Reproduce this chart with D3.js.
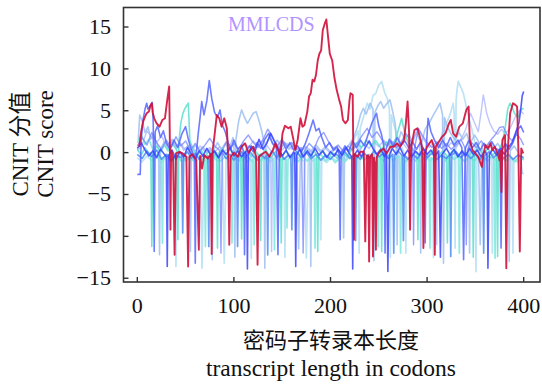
<!DOCTYPE html>
<html>
<head>
<meta charset="utf-8">
<script src="https://cdn.jsdelivr.net/npm/d3@7"></script>
<style>
  body { margin: 0; background: #fff; }
  text { font-family: "Liberation Serif", "Noto Sans CJK SC", serif; }
</style>
</head>
<body>
<script>
// tick values
const xTicks = [0, 100, 200, 300, 400];
const yTicks = [-15, -10, -5, 0, 5, 10, 15];

// highlighted transcript (MMLCDS), [codon, score]
const mmlcds = [[2,0.7],[4,2.5],[6,3.7],[8,4.3],[9.7,4.7],[12,4.9],[13.5,5.6],[15,5.9],[16,4.8],[17.5,4.1],[20,3.5],[23,3.1],[26,3.9],[28.6,4.1],[31,6.3],[33,7.9],[33.8,0.3],[34.3,-9.2],[35,0.3],[37,-0.5],[38.6,-12.2],[40,-0.1],[43.6,0.1],[47,-0.1],[50.8,-0.5],[52.6,-13.6],[54,-0.5],[57,-0.2],[61,-0.9],[63.7,-11.6],[65,-0.4],[67,-1.9],[69.4,-0.3],[73,-0.7],[76,-0.2],[77,-12.1],[78,0.3],[79.4,1.5],[82.3,4.5],[84.8,4.1],[87.3,3.1],[90,4.1],[92.7,2.9],[94,-0.1],[95.2,-11],[96.6,-0.5],[100,0],[104,-0.5],[108,0.7],[111.6,1.1],[115,0],[120,0.7],[123,-0.5],[124.5,-13.4],[126,-0.5],[130,-0.1],[133,0.1],[136.7,-0.5],[140.2,0.3],[143,1.1],[145.6,0.3],[148,-0.5],[150.3,2.3],[152.8,3.2],[156.4,2.9],[158.8,3.1],[161.7,1.5],[163.5,0.3],[166,1.5],[168.9,4.1],[171,3.1],[173,3.3],[176,4.9],[177.8,6.7],[179.6,7.1],[181.4,8.7],[183.2,8.5],[185,9.3],[186.8,11],[188.5,11.8],[190.3,12.2],[192,14.6],[194,15.4],[195.7,15.9],[197.5,13.8],[199.3,11.8],[201.8,11],[204,9],[206.4,7.5],[209,6.3],[211,5.5],[212.9,3.9],[215.4,3.5],[218,3.9],[219.7,6.3],[220.7,7.1],[223,6.9],[223.6,0],[224.3,-10.4],[225,-0.2],[228,-0.5],[231,0.1],[234.5,0.1],[236,-10.6],[237.5,-0.4],[239,-0.3],[240,-13],[241,-0.5],[243,-0.2],[244,-12.4],[245,-0.6],[246,-1.2],[247,-11.6],[248,-0.5],[251,0.1],[254.7,0.5],[258,-0.1],[262,0.7],[265.5,0.7],[269,1.1],[272,0.7],[276.2,1.5],[278,3.5],[279.8,6.1],[281.4,2.3],[282.4,-9.2],[283.6,0.7],[286.9,2.7],[290,2.9],[293.4,1.5],[295,0.3],[296.2,-11.4],[297.5,-0.1],[300,0.7],[304.8,1.5],[307,0.7],[308,-12.2],[309,0.7],[311,1.1],[315.6,1.9],[319,2.3],[322.7,3.5],[324.5,3.9],[327,2.3],[330,1.9],[333.4,3.1],[337,3.5],[340.6,5.1],[343,5.5],[344.2,1.5],[347,0.3],[350,-0.1],[353,-0.5],[356.7,-1.7],[358.5,-0.1],[360.4,0.9],[363,0.5],[365.6,1.1],[367.5,0.3],[370,0.7],[373,-0.1],[375,-0.9],[376,0.2],[377,-4.7],[378,1.5],[380.7,2.1],[382,-13.8],[383.5,0.3],[386,4.7],[388.9,5.9],[391.4,5.7],[393.2,5.5],[394.5,0.5],[396,-11.8],[397.5,0.5],[399.6,-0.1]];

// other transcripts
const royal = [[0,0.5],[4,1.2],[8,0.3],[12,-0.4],[16,0.2],[20,-0.6],[24,0.4],[28,-0.2],[30,-0.5],[31,-13.6],[32,-0.4],[36,0.3],[40,-0.8],[44,0.1],[48,-0.5],[52,0.6],[56,-0.2],[60,-0.7],[64,0.2],[68,-0.4],[72,0.5],[76,-0.3],[80,0.2],[84,-0.6],[88,0.3],[92,-0.2],[96,0.6],[100,-0.4],[104,0.2],[108,-0.5],[112,0.1],[113,-0.3],[114,-13.9],[115,-0.3],[118,0.8],[122,0.2],[126,1.6],[130,0.4],[134,1.1],[138,2.3],[142,1.3],[146,0.5],[150,-0.4],[154,0.3],[158,-0.6],[162,0.1],[163,-0.2],[164,-13.6],[165,-0.3],[168,0.4],[172,-0.5],[176,0.2],[180,-0.4],[184,0.5],[188,-0.3],[192,0.2],[196,-0.6],[200,0.1],[204,-0.4],[208,0.4],[212,-0.3],[216,0.6],[220,-0.2],[222,-0.5],[223,-13.9],[224,-0.4],[228,0.3],[232,-0.5],[236,0.6],[240,1.4],[244,0.5],[248,-0.2],[252,0.4],[256,-0.5],[258,0.1],[259.4,-14.2],[261,-0.3],[264,0.5],[268,-0.2],[272,0.6],[276,-0.4],[280,0.3],[284,-0.5],[288,0.2],[292,-0.3],[296,0.5],[300,-0.2],[304,0.3],[308,-0.4],[312,0.2],[313.8,-12.5],[315.5,-0.2],[320,0.5],[324,-0.3],[328,0.4],[332,-0.5],[336,0.2],[340,-0.4],[344,0.5],[348,-0.2],[352,0.3],[356,-0.5],[360,0.2],[362,-0.3],[363,-13.8],[364.5,-0.2],[368,0.4],[372,-0.3],[376,0.5],[380,-0.2],[384,0.6],[388,1.2],[392,2.5],[395,3.5],[397,5.2],[398.5,6.8],[400,7.3]];

const blue = [[0,-2.6],[3,-2.6],[4,1.5],[6,4],[8,5.2],[9.7,5.9],[11,5.2],[13,5.5],[15.4,6],[16.5,3.5],[17.5,-11.8],[18.5,2.5],[21,3.2],[24,1.8],[27,2.6],[30,1.2],[34,0.4],[38,1.5],[42,0.6],[46,2.2],[50,3.1],[53,1.5],[56,0.3],[59,-0.4],[60,-13.2],[61,-0.2],[63,2.2],[65,4.2],[66.7,6.1],[69,4.5],[72,6.2],[74.5,8.6],[77,6.5],[80,4.8],[83,4.2],[85.6,5.1],[88,3.3],[91,2.5],[94,1.2],[97,0.5],[100,1.5],[104,0.4],[108,0.9],[110,0.1],[111,-12.2],[112,0],[116,0.8],[120,0.1],[124,1.2],[128,0.5],[132,1.6],[136,2.3],[140,1.1],[144,0.6],[145.6,-12.2],[147,0.2],[150,1.4],[154,0.4],[158,1.2],[162,0.3],[166,0.8],[170,0.1],[174,1.1],[178,2.4],[182,3.9],[185,2.6],[188,2.9],[191,1.8],[195,0.6],[199,1.2],[203,0.3],[207,0.7],[209,-0.2],[210,-10.4],[211,-0.1],[215,0.8],[219,0.2],[223,1.4],[227,0.6],[231,1.5],[235,0.8],[239,2.2],[243,3.6],[247.6,4.7],[250,3.2],[253,2.1],[255.5,0.5],[256.5,-12],[257.5,0.4],[261,1.6],[265,0.7],[269,1.8],[273,0.9],[277,1.4],[281,0.6],[285,1.3],[289,0.4],[293,1.2],[297,0.3],[298,-10.8],[299,0.2],[301,4.1],[304,2.5],[308,1.4],[312,0.6],[316,1.5],[320,0.7],[324,1.8],[328,0.9],[332,1.5],[336,0.6],[337.8,-12.8],[339.5,0.5],[343,1.4],[347,0.6],[351,1.2],[355,0.3],[359,1.1],[363,0.4],[367,1.3],[371,0.5],[375.5,0.2],[376.6,-11.4],[377.8,0.3],[381,1.1],[385,0.4],[389,1.2],[393,2.6],[397,3.2],[400,2.4]];

const cornflower = [[0,0.8],[5,1.8],[10,0.9],[15,2.4],[20,1.2],[25,0.4],[30,1.5],[35,0.6],[40,1.9],[45,0.8],[50,1.4],[55,0.3],[60,1.1],[65,0.2],[70,0.9],[75,1.7],[80,0.8],[85,0.3],[86.6,-12],[88,0.2],[92,1.3],[96,0.5],[100,1.1],[105,0.3],[110,1.4],[115,2.1],[120,1.2],[125,0.6],[130,1.5],[135,2.8],[140,1.9],[145,0.8],[150,1.6],[155,0.7],[160,1.2],[165,0.4],[170,0.6],[171.7,-12],[173.5,0.3],[178,1.1],[183,0.5],[188,1.8],[193,2.4],[198,1.3],[203,0.5],[208,0.9],[213,0.2],[218,0.8],[223,0.3],[228,1.2],[233,2.1],[238,2.9],[243,1.8],[248,2.5],[253,1.6],[258,0.8],[263,1.4],[268,0.6],[273,1.2],[278,2.3],[283,1.4],[285,0.4],[286,-11],[287,0.5],[291,2.9],[295,2.1],[300,1.2],[305,0.6],[310,1.3],[315,0.5],[320,1.1],[325,0.4],[330,0.9],[335,1.6],[339.5,0.5],[340.6,-11],[341.7,0.4],[346,1.2],[351,0.6],[356,1.4],[361,0.7],[366,1.5],[371,2.2],[375,3],[378.8,3.1],[383,2.1],[388,1.4],[393,2.2],[397,1.6],[400,0.9]];

const sky = [[0,-0.2],[5,-0.7],[10,0.2],[15,-0.5],[20,0.3],[25,-0.8],[30,-0.2],[35,-0.9],[40,-0.3],[45,-0.6],[46,-0.4],[47,-9.6],[48,-0.5],[52,0.1],[56,-0.7],[60,-0.1],[64,-0.8],[68,-0.3],[72,-0.6],[73,-0.4],[74,-11.2],[75,-0.5],[79,0.2],[84,-0.6],[88,0],[92,-0.7],[96,-0.2],[100,-0.9],[102.8,-0.4],[103.8,-11.2],[104.8,-0.5],[108,0.1],[112,-0.6],[116,0.2],[120,-0.4],[124,-0.9],[128,-0.2],[132,-0.7],[134,-0.3],[135,-12.2],[136,-0.4],[140,0.2],[144,-0.6],[148,0],[152,-0.8],[156,-0.3],[159,-0.5],[160,-9.2],[161,-0.4],[165,0.1],[170,-0.6],[175,0],[180,-0.7],[185,-0.2],[190,-0.9],[195,-0.3],[200,-0.8],[205,-0.1],[210,-0.6],[215,0.1],[220,-0.7],[225,-0.2],[226,-10.5],[227,-0.3],[231,-0.8],[235,-0.1],[240,-0.6],[245,0.2],[250,-0.5],[255,-0.1],[260,-0.7],[264.5,-0.2],[265.5,-12],[266.5,-0.3],[270,0.2],[274.5,-0.4],[275.5,-10.5],[276.5,-0.3],[280,-0.8],[285,-0.2],[290,-0.7],[295,0],[300,-0.6],[305,-0.1],[310,-0.8],[315,-0.3],[320,-0.7],[323.5,-0.2],[324.5,-12.4],[325.5,-0.3],[330,0.1],[335,-0.6],[340,0],[345,-0.7],[350,-0.2],[355,-0.8],[357.6,-0.3],[358.6,-12],[359.6,-0.4],[364,0.1],[369,-0.6],[374,0],[379,-0.7],[384,-0.2],[389,-0.8],[394,-0.3],[400,-0.6]];

const steel = [[1,1.5],[2.5,4.5],[5,3.8],[8,2.4],[11,3.1],[14,1.6],[17,2.2],[20,1.1],[22,0.6],[23,-12.2],[24,0.4],[28,1.3],[32,0.5],[36,1.6],[40,0.7],[44,1.2],[48,0.3],[52,0.8],[54,0.2],[55,-11.8],[56,0.1],[60,0.9],[64,0.2],[68,0.7],[72,0],[76,0.5],[77.6,-12.8],[79,0.3],[83,1.2],[87,0.4],[91,1.1],[95,0.3],[99,1.8],[100,1],[101,-12.5],[102,1.5],[105,3.8],[108,5.1],[111,4.2],[114,3.5],[117,4.1],[120,4.7],[123,4.9],[126,3.8],[129,2.5],[131,1.2],[132,-13.8],[133,1],[137,1.8],[141,0.9],[145,1.5],[149,0.6],[153,1.2],[157,0.4],[161,0.9],[165,0.3],[167,-11.5],[169,0.2],[173,0.8],[177,0.2],[178.6,0.4],[179.6,-13.6],[180.6,0.3],[185,0.9],[190,0.2],[195,0.7],[200,0.1],[205,0.6],[210,0],[212.6,0.3],[213.6,-10.2],[214.6,0.2],[219,0.9],[224,1.8],[228,3.1],[231,4.5],[234,5.3],[237,4.6],[241,5.9],[244,5.2],[245,-12.9],[246,4.8],[249,5.6],[252,6.1],[255,5.3],[258,5.8],[261.6,6.3],[264,5.1],[267,3.5],[268,1.5],[269,-11],[270,1.2],[273,2.5],[277,1.6],[281,2.2],[285,1.3],[289,2.4],[292.4,1.5],[293.4,-12],[294.4,1.2],[298,2.8],[302,3.5],[306,4.4],[310,5.2],[313.4,5.9],[316,4.5],[317,-13.2],[318,4.2],[321,3.1],[325,2.2],[329,1.5],[333,2.4],[337,1.6],[341,2.3],[343,1.5],[344,-12],[345,1.2],[349,2.1],[353,1.4],[355,-11],[357,1.1],[361,0.6],[365,1.3],[369,0.5],[373,1.1],[377,0.4],[381,0.9],[384,0.3],[385,-13],[386,0.2],[390,0.8],[394,0.1],[397,-0.8],[398.5,-2.5],[400,-2.5]];

const pale = [[0,-0.6],[5,-1.1],[10,-0.4],[15,-1],[20,-0.5],[25,-1.2],[30,-0.6],[35,-1],[39,-0.7],[40,-13.6],[41,-0.8],[45,-0.3],[50,-1],[55,-0.5],[60,-1.1],[65,-0.6],[67,-13.8],[69,-0.7],[73,-1.2],[78,-0.5],[83,-1],[88,-0.4],[90,-13.2],[92,-0.6],[96,-1.1],[100,-0.5],[105,-1],[110,-0.4],[114,-1.1],[117,-0.6],[118,-12.6],[119,-0.7],[123,-0.2],[128,-1],[133,-0.4],[138,-1.1],[143,-0.5],[148,-1],[151.8,-0.6],[152.8,-12.5],[153.8,-0.7],[158,-0.2],[163,-1],[168,-0.5],[173,-1.1],[175,-12.6],[177,-0.6],[182,-1],[187,-0.4],[189,-0.8],[190,-10.4],[191,-0.7],[196,-1.2],[201,-0.5],[206,-1],[211,-0.4],[216,-0.9],[220,0.2],[224,1.5],[228.7,2.6],[229.7,-12],[230.7,2.9],[234,4.2],[238,5.9],[241,5.2],[244,6.8],[247,7.1],[250,8.1],[253,8.5],[256,7.2],[259,6.4],[261,5.1],[262,-12.5],[263,4.5],[266,3.2],[270,1.8],[274,0.6],[277,-0.4],[278,-12],[279,-0.5],[283,-1],[288,-0.4],[293,-1.1],[298,-0.5],[303,-1],[305.6,-0.6],[306.6,-12.5],[307.6,-0.5],[312,0.8],[316,2.4],[320,3.5],[324,4.6],[327,5.9],[328,4.8],[329,-11.4],[330,6.2],[331,7.5],[332.3,8.5],[335,7.8],[337.5,7.1],[341,5.3],[344,3.8],[347,2.5],[349.6,1.2],[350.6,-14.2],[351.6,0.9],[355,0.2],[359,-0.6],[363,-1],[366.6,-0.5],[367.6,-12],[368.6,-0.6],[373,-1.1],[378,-0.5],[383,-1],[387.9,-0.6],[388.9,-12],[389.9,-0.7],[394,-1.1],[400,-0.6]];

const aqua = [[0,0.4],[4,-0.3],[8,0.6],[12,-0.2],[14,0],[15,-11.2],[16,-0.2],[20,0.8],[24,0.1],[28,0.9],[32,0.2],[36,1.1],[40,0.5],[41,0.2],[42,-10.4],[43,1.2],[45,3.5],[47,4.6],[49,5.2],[51,5.6],[52.8,5.9],[54.4,1.4],[58,0.3],[62,-0.4],[66,0.3],[70,-0.5],[74,0.2],[78,-0.6],[82,0],[83,-11.4],[84,-0.2],[88,0.5],[92,-0.3],[96,0.4],[100,-0.4],[104,0.3],[107,-0.2],[108,-10.3],[109,-0.3],[113,0.4],[118,-0.5],[122,0.2],[126.7,-0.4],[127.7,-10.5],[128.7,-0.3],[133,0.3],[138,-0.6],[143,0.1],[148,-0.5],[149,-10.8],[150,-0.4],[154,0.2],[159,-0.6],[164,0.1],[169,-0.5],[174,0.3],[179,-0.4],[183,0.2],[185.8,-0.3],[186.8,-11.8],[187.8,-0.4],[192,0.2],[197,-0.6],[202,0],[207,-0.7],[212,0.1],[217,-0.5],[222,0.4],[227,1.2],[232,0.6],[237,1.5],[242,0.8],[247,1.4],[252,0.6],[253,-11.8],[254,0.5],[258,1.3],[263,0.6],[268,1.8],[273.7,4.1],[277,2.2],[281,1.1],[285,0.4],[289.5,-0.2],[290.5,-10.4],[291.5,-0.3],[296,0.4],[301,-0.4],[306,0.3],[311,-0.5],[316,0.2],[320,-0.3],[321,-10.8],[322,-0.4],[327,0.3],[332,-0.5],[337,0.2],[342,-0.4],[346.8,0.1],[347.8,-12.5],[348.8,0],[353,0.6],[358,-0.2],[363,0.5],[368,-0.3],[372,0.2],[373,-12.4],[374,0.3],[378,1.2],[381,3.1],[383.5,5.2],[385.8,5.9],[388,5.4],[391,4.6],[394,4.2],[397,5.1],[400,5.3]];

const turquoise = [[0,1.2],[4,2.1],[8,1],[12,1.6],[16,0.4],[20,-0.3],[24,-0.9],[25,-0.6],[26,-10.8],[27,-0.7],[31,-0.2],[36,-1],[41,-0.4],[46,-1.1],[51,-0.5],[56,-1],[61,-0.3],[66,-0.9],[69.5,-0.5],[70.5,-11.2],[71.5,-0.6],[76,-1.1],[81,-0.4],[86,-1],[91,-0.5],[97,-0.8],[98,-10.8],[99,-0.7],[104,-0.2],[109,-1],[114,-0.4],[119,-1.1],[120,-0.8],[121,-11],[122,-0.7],[127,-0.2],[132,-1],[137,-0.5],[141,-0.9],[142,-11.6],[143,-0.8],[148,-0.3],[154,-0.9],[155,-9],[156,-0.8],[161,-0.3],[166,-1.1],[171,-0.5],[176,-1],[181,-0.4],[183,-0.7],[184,-11.4],[185,-0.8],[190,-0.2],[195,-1],[200,-0.5],[205,-1.2],[210,-0.6],[215,-1.1],[220,-0.4],[225,-1],[230,-0.3],[235,-0.9],[240,-0.2],[245,-0.8],[248.4,-0.4],[249.4,-11.2],[250.4,-0.5],[255,-1],[260,-0.3],[265,-0.9],[271.6,-0.4],[272.6,-12],[273.6,-0.5],[278,-1.1],[283,-0.4],[288,-1],[293,-0.3],[298,-0.9],[302,-0.5],[303,-11.4],[304,-0.6],[309,-1.1],[314,-0.4],[319,-1],[324,-0.3],[328,-0.8],[332.4,-0.4],[333.4,-12],[334.4,-0.5],[339,-1.1],[344,-0.4],[349,-1],[354,-0.3],[359,-0.9],[364,-0.4],[369.4,-0.8],[370.4,-12.6],[371.4,-0.7],[376,-0.2],[381,-1],[386,-0.5],[391,-1.1],[396,-0.4],[400,-0.9]];

const lavender = [[0,0.2],[5,0.9],[10,2.6],[15,1.8],[20,1.2],[25,2],[30,0.8],[35,1.4],[40,0.5],[45,1.1],[50,0.3],[55,0.9],[60,0.2],[65,0.8],[70,0.1],[75,0.6],[80,0],[85,0.7],[90,0.1],[95,0.6],[100,0],[105,0.5],[110,1.2],[115,0.6],[120,1.4],[125,0.8],[130,1.5],[135,0.7],[138,0.3],[139,-11.8],[140,0.2],[145,0.9],[150,0.3],[155,1.1],[160,0.4],[165,0.8],[170,0.2],[175,0.7],[180,0.1],[185,0.6],[190,0],[195,0.5],[200,-0.1],[205,0.4],[210,-0.2],[215,0.5],[220,0],[225,0.8],[230,0.2],[235,1.1],[240,0.5],[245,1.3],[250,0.7],[255,1.5],[260,0.8],[265,1.3],[270,0.5],[275,1.1],[280,0.4],[285,1.2],[290,2.9],[294,2.1],[298,1.3],[302,0.6],[306,1.2],[309,0.5],[310,-11],[311,0.4],[315,1.1],[320,0.5],[325,1.2],[330,0.6],[335,1.5],[340,2.8],[345,4.7],[349,3.6],[353,2.5],[356,4.9],[358.2,6.9],[360,5.8],[361.7,4.7],[365,3.5],[369,2.6],[373,2.2],[377,2.8],[381,2.3],[386,2.9],[391,4.2],[396,5.1],[400,4.6]];

const width = 542, height = 387;
const plot = {left: 123.5, right: 540, top: 7.5, bottom: 282};

const svg = d3.select("body").append("svg")
    .attr("width", width).attr("height", height);

const x = d3.scaleLinear().domain([-14.3, 416.9]).range([plot.left, plot.right]);
const y = d3.scaleLinear().domain([-15.45, 17.33]).range([plot.bottom, plot.top]);

svg.append("clipPath").attr("id", "clip")
  .append("rect")
    .attr("x", plot.left).attr("y", plot.top)
    .attr("width", plot.right - plot.left).attr("height", plot.bottom - plot.top);

// background transcripts first, the red one on top
const layers = [
  {data: pale,       color: "#b6e0f4", op: 0.9,  w: 1.7},
  {data: steel,      color: "#9cc0f0", op: 0.85, w: 1.6},
  {data: lavender,   color: "#a9b2ff", op: 0.75, w: 1.4},
  {data: turquoise,  color: "#79e8dc", op: 0.85, w: 1.7},
  {data: aqua,       color: "#5adfcd", op: 0.85, w: 1.6},
  {data: sky,        color: "#4d8cf2", op: 0.85, w: 1.7},
  {data: cornflower, color: "#7682ff", op: 0.75, w: 1.4},
  {data: blue,       color: "#5566ff", op: 0.85, w: 1.6},
  {data: royal,      color: "#3742ff", op: 0.85, w: 1.6},
  {data: mmlcds,     color: "#d0103a", op: 0.9,  w: 1.9}
];

const line = d3.line().x(d => x(d[0])).y(d => y(d[1]));

const g = svg.append("g").attr("clip-path", "url(#clip)");

layers.forEach(l => {
  g.append("path")
    .attr("d", line(l.data))
    .attr("fill", "none")
    .attr("stroke", l.color)
    .attr("stroke-opacity", l.op)
    .attr("stroke-width", l.w)
    .attr("stroke-linejoin", "round");
});

// frame
svg.append("rect")
    .attr("x", plot.left).attr("y", plot.top)
    .attr("width", plot.right - plot.left).attr("height", plot.bottom - plot.top)
    .attr("fill", "none").attr("stroke", "#333").attr("stroke-width", 1.6);

// ticks point inward
svg.selectAll(".ytick").data(yTicks).enter().append("line")
    .attr("x1", plot.left).attr("x2", plot.left + 5)
    .attr("y1", d => y(d)).attr("y2", d => y(d))
    .attr("stroke", "#333").attr("stroke-width", 1.4);

svg.selectAll(".xtick").data(xTicks).enter().append("line")
    .attr("x1", d => x(d)).attr("x2", d => x(d))
    .attr("y1", plot.bottom).attr("y2", plot.bottom - 5)
    .attr("stroke", "#333").attr("stroke-width", 1.4);

const fmt = d3.format("d");

svg.selectAll(".ylab").data(yTicks).enter().append("text")
    .attr("x", 111).attr("y", d => y(d) + 7)
    .attr("text-anchor", "end")
    .style("font-size", "22px").attr("fill", "#111")
    .text(d => fmt(d));

svg.selectAll(".xlab").data(xTicks).enter().append("text")
    .attr("x", d => x(d)).attr("y", 313)
    .attr("text-anchor", "middle")
    .style("font-size", "22px").attr("fill", "#111")
    .text(d => fmt(d));

// axis titles
svg.append("text")
    .attr("x", 331).attr("y", 348)
    .attr("text-anchor", "middle")
    .style("font-size", "22px").attr("fill", "#111")
    .text("密码子转录本长度");

svg.append("text")
    .attr("x", 331).attr("y", 376)
    .attr("text-anchor", "middle")
    .style("font-size", "23.5px").attr("fill", "#111")
    .text("transcript length in codons");

svg.append("text")
    .attr("transform", "translate(28,144) rotate(-90)")
    .attr("text-anchor", "middle")
    .style("font-size", "23px").attr("fill", "#111")
    .text("CNIT 分值");

svg.append("text")
    .attr("transform", "translate(53,144) rotate(-90)")
    .attr("text-anchor", "middle")
    .style("font-size", "23px").attr("fill", "#111")
    .text("CNIT score");

// series label
svg.append("text")
    .attr("x", 228).attr("y", 31)
    .style("font-size", "20px").attr("fill", "#b294ff")
    .text("MMLCDS");
</script>
</body>
</html>
